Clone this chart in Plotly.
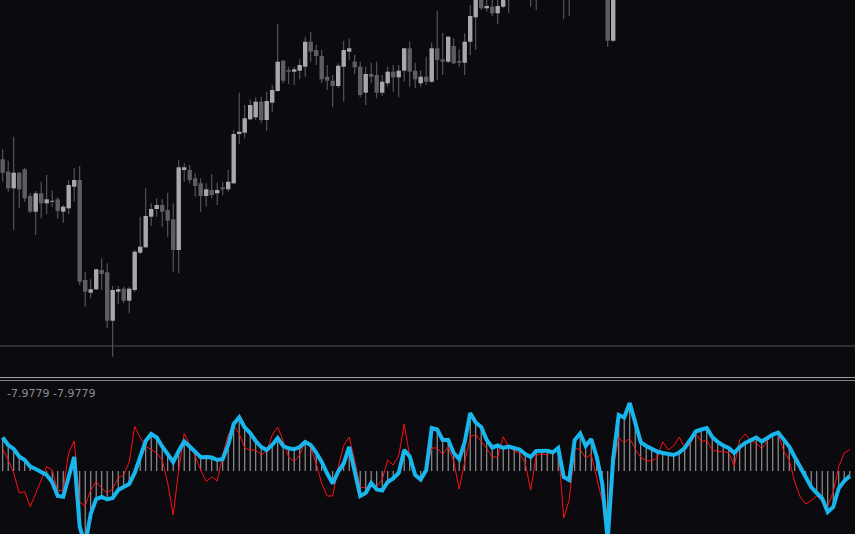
import plotly.graph_objects as go

# ---------------- data ----------------
opens = [240.7, 228.3, 211.7, 227.3, 230.7, 204.0, 188.3, 206.7, 196.7, 198.3,
         200.7, 188.3, 191.7, 213.3, 220.0, 120.0, 107.3, 110.7, 130.0, 127.7,
         79.3, 108.3, 111.3, 99.3, 110.0, 147.3, 152.7, 183.3, 191.0, 195.0,
         190.0, 180.7, 150.0, 230.0, 230.0, 221.7, 216.7, 204.0, 210.0, 206.7,
         212.7, 210.7, 216.7, 266.0, 267.3, 280.7, 282.7, 298.3, 280.0, 297.3,
         309.0, 339.3, 330.0, 328.3, 329.3, 333.3, 358.3, 350.0, 344.0, 323.3,
         319.3, 314.0, 333.3, 348.3, 338.3, 333.3, 307.3, 326.0, 325.0, 307.3,
         316.7, 328.3, 322.7, 329.3, 351.7, 329.3, 316.7, 323.3, 318.3, 351.7,
         340.7, 338.3, 354.0, 339.0, 337.3, 358.3, 382.7, 405.0, 391.7, 393.3,
         386.7, 393.3, 402.0, 418.0, 425.0, 420.0, 428.0, 415.0, 422.0, 430.0,
         424.0, 433.0, 418.0, 410.0, 422.0, 436.0, 444.0, 435.0, 440.0, 428.0,
         420.0, 359.3]
highs = [250.7, 239.3, 263.3, 228.0, 232.0, 206.7, 209.0, 218.3, 225.0, 209.3,
         202.7, 195.0, 220.0, 231.7, 234.0, 128.3, 120.7, 131.5, 141.7, 136.7,
         114.0, 114.0, 113.3, 113.3, 150.0, 183.3, 211.7, 196.7, 201.7, 200.7,
         207.3, 196.7, 240.0, 236.7, 235.0, 226.7, 221.7, 216.7, 226.0, 217.3,
         218.0, 230.0, 270.0, 307.3, 295.0, 300.7, 302.7, 303.3, 308.3, 315.0,
         376.0, 340.0, 333.3, 333.3, 340.7, 363.3, 368.3, 355.0, 350.0, 335.0,
         325.0, 336.7, 359.3, 361.7, 345.0, 338.3, 333.3, 337.3, 338.3, 325.0,
         333.3, 335.0, 335.0, 351.7, 358.3, 337.3, 330.0, 343.3, 357.3, 389.3,
         367.3, 364.0, 361.7, 350.7, 366.7, 395.0, 415.0, 412.0, 405.0, 402.0,
         403.0, 418.0, 428.0, 430.0, 436.0, 432.0, 438.0, 428.0, 435.0, 442.0,
         438.0, 440.0, 430.0, 426.0, 440.0, 450.0, 452.0, 448.0, 450.0, 438.0,
         425.0, 420.0]
lows = [218.3, 208.3, 170.0, 191.7, 198.3, 186.7, 165.0, 181.7, 186.0, 193.3,
        181.7, 177.3, 186.0, 198.3, 115.0, 93.3, 101.7, 110.0, 110.0, 71.7,
        43.3, 96.0, 97.0, 86.7, 108.3, 146.0, 151.7, 174.0, 183.3, 173.3,
        163.3, 128.3, 126.7, 218.3, 216.7, 203.3, 188.3, 193.3, 201.7, 195.0,
        205.0, 208.3, 216.0, 256.0, 261.7, 280.0, 280.0, 276.7, 269.3, 288.3,
        308.3, 316.7, 316.0, 315.0, 320.7, 323.3, 338.3, 335.0, 316.7, 310.0,
        292.7, 311.7, 298.3, 340.0, 326.0, 302.7, 295.0, 316.7, 301.7, 304.0,
        313.3, 308.3, 302.7, 318.3, 313.3, 311.7, 313.3, 315.0, 317.3, 320.0,
        325.0, 336.7, 336.0, 333.3, 325.0, 345.0, 350.0, 390.0, 388.3, 384.0,
        376.0, 391.7, 386.7, 408.0, 414.0, 409.0, 393.3, 390.0, 412.0, 418.0,
        410.0, 406.0, 380.7, 384.0, 414.0, 428.0, 430.0, 425.0, 420.0, 410.0,
        353.3, 358.3]
closes = [227.3, 211.7, 227.3, 210.7, 201.7, 188.3, 206.7, 196.7, 200.7, 198.6,
          189.0, 193.3, 215.0, 220.0, 118.3, 108.3, 110.7, 130.7, 126.0, 79.3,
          110.0, 110.7, 99.3, 111.3, 148.3, 153.3, 184.0, 191.0, 195.0, 188.3,
          179.3, 150.0, 232.7, 232.7, 220.0, 214.0, 204.0, 210.7, 205.0, 210.0,
          210.7, 218.3, 266.0, 268.3, 281.7, 295.0, 298.3, 280.0, 299.0, 310.0,
          338.3, 319.3, 328.3, 330.7, 335.0, 358.3, 348.3, 344.0, 320.7, 319.3,
          314.0, 334.3, 350.0, 351.7, 332.7, 305.0, 326.0, 323.3, 307.3, 318.3,
          328.3, 322.7, 329.3, 351.7, 328.3, 320.7, 323.3, 318.3, 351.7, 340.0,
          338.3, 363.3, 336.7, 337.3, 358.3, 384.0, 408.0, 391.7, 394.0, 386.7,
          394.0, 410.0, 420.0, 425.0, 420.0, 428.0, 415.0, 422.0, 430.0, 424.0,
          433.0, 418.0, 410.0, 422.0, 436.0, 444.0, 435.0, 440.0, 428.0, 420.0,
          359.3, 415.0]

price_level = 54.0

main_line = [33.5, 26, 22, 14.5, 11, 4.5, 2, -0.5, -4, -11,
             -25, -25.7, -4, 14, -55.7, -74, -43, -28, -26, -28.5,
             -27, -19, -16, -13, -2, 15, 30, 37, 33.5, 24.5,
             16, 9, 20, 29.5, 24.5, 19.5, 13.7, 14, 13.5, 11,
             12, 26, 47, 53.7, 43.5, 38, 30, 24, 21, 26,
             33, 25, 22.7, 21.7, 24, 29, 26, 18.5, 9, -2.5,
             -12.5, -0.5, 7.5, 24, -1, -25, -22, -12, -18.5, -19.5,
             -11, -7.5, -2, 21, 14.5, -4, -8.5, 1, 43, 41.5,
             31, 31, 18, 12, 29, 58, 48.5, 44, 31, 23.5,
             25.5, 23, 24.5, 23.5, 21.5, 17, 14, 20, 20.3, 20.3,
             18.5, 23, -6, -9, 31, 37.5, 25, 32, 14, -12,
             -69, 13, 56, 53.5, 68, 48, 29, 25, 22, 19.5,
             18, 17.5, 16, 18.5, 23, 31, 39.5, 41.5, 43, 34,
             29, 25.5, 23, 18, 24, 28, 30.5, 33.5, 29.5, 32.7,
             36.5, 38.5, 31, 24.5, 14, 4, -6, -16, -22, -27.5,
             -41, -36, -17.3, -10, -5]

signal_line = [22, 11, -2, -22, -20.7, -35.7, -22.5, -9.5, 4.3, 1,
               -20, -19, 18, 30, -31, -35, -19, -10.5, -17, -22,
               -18, -7, -4, 9, 44.5, 33.5, 24.5, 21.5, 18, 11,
               -12, -44, 1, 37.5, 26, 15, 1, -10.5, -6, -10,
               16, 36, 45.5, 37.5, 23, 21, 21, 16, 20, 36,
               44, 30, 13.7, 9.5, 16, 30, 23, 7.5, -12.5, -25,
               -25, 4, 25.5, 34, 10, -16, -17, -14, -15.7, -8.5,
               11, 6, 15, 47, 15, -5.5, -11, 1, 23, 23,
               16.5, 24, 9.5, -18, 9, 34, 36.5, 29.5, 22.5, 14,
               14, 34.3, 24, 20, 17.7, 8, -19, 15.5, 17.5, 16,
               20, 25, -47, -29, 22.7, 21.5, 13, 16.5, -7, -32,
               -53, 3, 33, 28, 32.5, 22, 13.5, 10.3, 10, 13,
               29.3, 21, 25, 34, 23, 27, 37.5, 29.5, 30.5, 21,
               19.5, 19.3, 18.5, 5, 31, 37, 30, 28, 22, 30,
               36.5, 37, 20, 11, -11, -26, -33, -29.5, -25, -30.5,
               -35, -21, 4.3, 18, 21.5]

indicator_label = "-7.9779 -7.9779"

# ---------------- styling ----------------
BG = "#0a0a0f"
UP_BODY = "#a7a7b1"
DN_BODY = "#5e5e60"
WICK = "#606062"

n_c = len(opens)
cx = list(range(n_c))
body_base = [min(o, c) for o, c in zip(opens, closes)]
body_h = [max(abs(c - o), 0.9) for o, c in zip(opens, closes)]
body_col = [UP_BODY if c >= o else DN_BODY for o, c in zip(opens, closes)]
wick_h = [h - l for h, l in zip(highs, lows)]

n_i = len(main_line)
ix = list(range(n_i))

fig = go.Figure()

# wicks
fig.add_trace(go.Bar(x=cx, y=wick_h, base=lows, width=0.19,
                     marker=dict(color=WICK, line=dict(width=0)),
                     xaxis="x", yaxis="y", hoverinfo="skip"))
# bodies
fig.add_trace(go.Bar(x=cx, y=body_h, base=body_base, width=0.8,
                     marker=dict(color=body_col, line=dict(width=0)),
                     xaxis="x", yaxis="y", hoverinfo="skip"))

# indicator histogram
fig.add_trace(go.Bar(x=ix, y=main_line, width=0.2,
                     marker=dict(color="#9c9c9c", line=dict(width=0)),
                     xaxis="x2", yaxis="y2", hoverinfo="skip"))
# signal line (red)
fig.add_trace(go.Scatter(x=ix, y=signal_line, mode="lines",
                         line=dict(color="#ff1010", width=1),
                         xaxis="x2", yaxis="y2", hoverinfo="skip"))
# main line (blue)
fig.add_trace(go.Scatter(x=ix, y=main_line, mode="lines",
                         line=dict(color="#18b6ec", width=4),
                         xaxis="x2", yaxis="y2", hoverinfo="skip"))

W, H = 855, 534
xr = [-0.49, 154.96]
top_lo = (H - 376) / H
bot_hi = (H - 381) / H

axis_common = dict(showgrid=False, zeroline=False, showticklabels=False,
                   showline=False, ticks="", fixedrange=True)

fig.update_layout(
    width=W, height=H,
    margin=dict(l=0, r=0, t=0, b=0),
    paper_bgcolor=BG, plot_bgcolor=BG,
    showlegend=False, barmode="overlay",
    xaxis=dict(domain=[0, 1], range=xr, anchor="y", **axis_common),
    yaxis=dict(domain=[top_lo, 1], range=[24, 400], anchor="x", **axis_common),
    xaxis2=dict(domain=[0, 1], range=xr, anchor="y2", **axis_common),
    yaxis2=dict(domain=[0, bot_hi], range=[-63, 90], anchor="x2", **axis_common),
    shapes=[
        dict(type="line", xref="paper", yref="y", x0=0, x1=1,
             y0=price_level, y1=price_level,
             line=dict(color="#505056", width=1)),
        dict(type="line", xref="paper", yref="paper", x0=0, x1=1,
             y0=(H - 377.5) / H, y1=(H - 377.5) / H,
             line=dict(color="#a0a0a4", width=1)),
        dict(type="line", xref="paper", yref="paper", x0=0, x1=1,
             y0=(H - 380.5) / H, y1=(H - 380.5) / H,
             line=dict(color="#808084", width=1)),
    ],
    annotations=[
        dict(text=indicator_label, xref="paper", yref="paper",
             x=5 / W, y=(H - 393) / H, xanchor="left", yanchor="middle",
             showarrow=False,
             font=dict(family="DejaVu Sans", size=11, color="#8e8e8e")),
    ],
)

fig.write_html(
    "out.html",
    config={"displayModeBar": False, "staticPlot": True},
    post_script="document.body.style.margin='0';document.body.style.padding='0';"
                "document.body.style.background='#0a0a0f';",
)
